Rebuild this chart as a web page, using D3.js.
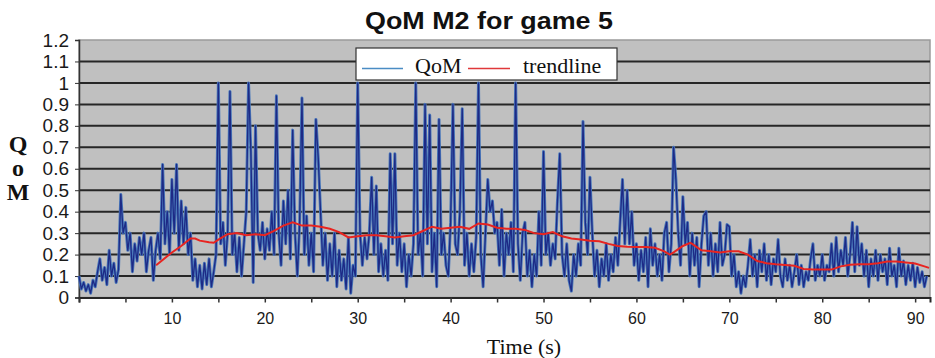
<!DOCTYPE html>
<html>
<head>
<meta charset="utf-8">
<script src="https://cdn.jsdelivr.net/npm/d3@7"></script>
<style>
  body { margin: 0; background: #fff; }
  svg { display: block; }
</style>
</head>
<body>
<div id="root"></div>
<script>

const svgWidth = 935;
const svgHeight = 358;

const sampleStep = 0.25;
const qomValues = [
  0.10, 0.04, 0.07, 0.03,   0.06, 0.02, 0.08, 0.05,   0.12, 0.18, 0.08, 0.14,
  0.06, 0.22, 0.10, 0.16,   0.07, 0.13, 0.48, 0.30,   0.35, 0.22, 0.30, 0.12,
  0.25, 0.17, 0.28, 0.20,   0.30, 0.12, 0.22, 0.28,   0.08, 0.22, 0.30, 0.18,
  0.62, 0.25, 0.40, 0.20,   // 9
  0.55, 0.30, 0.62, 0.22,   0.45, 0.25, 0.42, 0.20,   0.30, 0.08, 0.18, 0.05,
  0.15, 0.04, 0.16, 0.06,   0.18, 0.05, 0.12, 0.20,   1.00, 0.25, 0.35, 0.15,
  0.30, 0.96, 0.20, 0.30,   0.12, 0.28, 0.10, 0.25,   0.40, 1.00, 0.68, 0.07,
  0.80, 0.30, 0.22, 0.35,   // 19
  0.18, 0.32, 0.22, 0.40,   0.20, 0.94, 0.30, 0.15,   0.45, 0.25, 0.50, 0.18,
  0.78, 0.30, 0.10, 0.35,   0.93, 0.20, 0.38, 0.15,   0.30, 0.12, 0.83, 0.65,
  0.40, 0.15, 0.30, 0.08,   0.25, 0.10, 0.30, 0.05,   0.22, 0.08, 0.18, 0.04,
  0.28, 0.02, 0.15, 0.10,   // 29
  1.00, 0.30, 0.15, 0.28,   0.18, 0.30, 0.56, 0.20,   0.52, 0.12, 0.25, 0.10,
  0.22, 0.08, 0.67, 0.25,   0.67, 0.15, 0.30, 0.12,   0.25, 0.05, 0.20, 0.10,
  0.25, 1.00, 0.20, 0.30,   0.10, 0.90, 0.25, 0.85,   0.12, 0.30, 0.05, 0.83,
  0.20, 0.30, 0.15, 0.10,   // 39
  0.35, 0.90, 0.25, 0.20,   0.40, 0.88, 0.15, 0.30,   0.10, 0.25, 0.12, 0.28,
  1.00, 0.20, 0.05, 0.30,   0.55, 0.40, 0.45, 0.30,   0.35, 0.15, 0.41, 0.10,
  0.30, 0.20, 0.35, 0.12,   1.00, 0.25, 0.08, 0.30,   0.35, 0.10, 0.22, 0.05,
  0.20, 0.10, 0.40, 0.15,   // 49
  0.68, 0.20, 0.30, 0.15,   0.25, 0.18, 0.45, 0.67,   0.20, 0.10, 0.25, 0.08,
  0.03, 0.20, 0.10, 0.25,   0.15, 0.82, 0.35, 0.20,   0.56, 0.30, 0.10, 0.22,
  0.05, 0.18, 0.10, 0.25,   0.08, 0.20, 0.12, 0.28,   0.15, 0.35, 0.55, 0.25,
  0.50, 0.25, 0.40, 0.15,   // 59
  0.25, 0.08, 0.22, 0.12,   0.28, 0.05, 0.32, 0.15,   0.25, 0.10, 0.20, 0.08,
  0.30, 0.35, 0.12, 0.25,   0.70, 0.55, 0.30, 0.15,   0.47, 0.25, 0.35, 0.10,
  0.30, 0.15, 0.28, 0.05,   0.25, 0.38, 0.40, 0.15,   0.30, 0.10, 0.25, 0.12,
  0.35, 0.15, 0.20, 0.34,   // 69
  0.33, 0.10, 0.20, 0.05,   0.12, 0.02, 0.10, 0.05,   0.15, 0.27, 0.10, 0.20,
  0.05, 0.22, 0.12, 0.25,   0.08, 0.20, 0.06, 0.18,   0.12, 0.27, 0.10, 0.05,
  0.18, 0.08, 0.15, 0.05,   0.12, 0.20, 0.06, 0.15,   0.05, 0.12, 0.08, 0.18,
  0.25, 0.08, 0.15, 0.10,   // 79
  0.20, 0.08, 0.15, 0.12,   0.25, 0.10, 0.28, 0.12,   0.22, 0.15, 0.28, 0.10,
  0.20, 0.35, 0.12, 0.33,   0.15, 0.25, 0.10, 0.22,   0.05, 0.18, 0.10, 0.22,
  0.08, 0.20, 0.12, 0.18,   0.06, 0.23, 0.10, 0.15,   0.05, 0.23, 0.10, 0.17,
  0.06, 0.15, 0.08, 0.16,   // 89
  0.05, 0.14, 0.07, 0.12,   0.05, 0.10
];

// moving-average trendline
const trendTimes = [
  8.3, 9, 10, 11, 12, 12.5, 13, 14, 14.5, 15, 16, 17, 18, 19, 20, 21, 22, 23, 24, 25,
  26, 27, 28, 29, 30, 31, 32, 33, 34, 35, 36, 37, 38, 39, 40, 41, 42, 43, 44, 45,
  46, 47, 48, 49, 50, 51, 52, 53, 54, 55, 56, 57, 58, 59, 60, 61, 62, 63, 63.6, 64,
  65, 65.8, 66, 67, 68, 69, 70, 71, 72, 73, 74, 75, 76, 77, 78, 79, 80, 81, 82, 83,
  84, 85, 86, 87, 88, 89, 90, 91, 91.5
];
const trendValues = [
  0.150, 0.175, 0.210, 0.240, 0.275, 0.275, 0.265, 0.258, 0.255, 0.270, 0.295, 0.300, 0.290, 0.295, 0.290, 0.310, 0.335, 0.350, 0.335, 0.335,
  0.330, 0.320, 0.305, 0.280, 0.285, 0.290, 0.290, 0.285, 0.280, 0.285, 0.290, 0.310, 0.330, 0.320, 0.325, 0.330, 0.320, 0.345, 0.340, 0.325,
  0.320, 0.320, 0.315, 0.300, 0.295, 0.305, 0.285, 0.275, 0.270, 0.265, 0.262, 0.250, 0.240, 0.237, 0.235, 0.235, 0.232, 0.215, 0.200, 0.210,
  0.240, 0.255, 0.250, 0.220, 0.215, 0.210, 0.215, 0.215, 0.200, 0.170, 0.160, 0.155, 0.152, 0.148, 0.133, 0.130, 0.130, 0.130, 0.145, 0.153,
  0.155, 0.155, 0.160, 0.168, 0.168, 0.163, 0.158, 0.145, 0.138
];

const yTicks = [0, 0.1, 0.2, 0.3, 0.4, 0.5, 0.6, 0.7, 0.8, 0.9, 1, 1.1, 1.2];
const xTicks = [0, 5, 10, 15, 20, 25, 30, 35, 40, 45, 50, 55, 60, 65, 70, 75, 80, 85, 90];
const xLabelled = [10, 20, 30, 40, 50, 60, 70, 80, 90];

const chartTitle = "QoM M2 for game 5";
const seriesNames = ["QoM", "trendline"];
const yTitleLetters = ["Q", "o", "M"];


const plotLeft = 79, plotRight = 930, plotTop = 40, plotBottom = 297.5;

const xScale = d3.scaleLinear()
      .domain([0, 91.6])
      .range([plotLeft, plotRight]);

const yScale = d3.scaleLinear()
      .domain([0, 1.2])
      .range([plotBottom, plotTop]);

const mainSvg = d3.select("#root")
      .append("svg")
      .attr("width", svgWidth)
      .attr("height", svgHeight);

//Plot background
mainSvg.append("rect")
    .attr("x", plotLeft)
    .attr("y", plotTop)
    .attr("width", plotRight - plotLeft)
    .attr("height", plotBottom - plotTop)
    .attr("fill", "#c0c0c0")
    .attr("stroke", "#9a9a9a")
    .attr("stroke-width", 1.5);

//Gridlines
mainSvg.append("g")
    .selectAll("line")
    .data(yTicks.filter(d => d > 0 && d < 1.2))
    .join("line")
    .attr("x1", plotLeft)
    .attr("x2", plotRight)
    .attr("y1", d => yScale(d))
    .attr("y2", d => yScale(d))
    .attr("stroke", "#262626")
    .attr("stroke-width", 2);

//Y axis
const yAxis = mainSvg.append("g")
    .attr("transform", `translate(${plotLeft},0)`)
    .call(d3.axisLeft(yScale)
      .tickValues(yTicks)
      .tickSize(4)
      .tickPadding(6)
      .tickFormat(d => String(+d.toFixed(1))));
yAxis.select(".domain").attr("stroke", "#333").attr("stroke-width", 1.5);
yAxis.selectAll(".tick line").attr("stroke", "#333");
yAxis.selectAll("text")
    .attr("font-family", "Arial, 'Liberation Sans', sans-serif")
    .attr("font-size", "19px")
    .attr("fill", "#1a1a1a");

//X axis
const xAxis = mainSvg.append("g")
    .attr("transform", `translate(0,${plotBottom})`)
    .call(d3.axisBottom(xScale)
      .tickValues(xTicks)
      .tickSize(5)
      .tickPadding(10)
      .tickFormat(d => xLabelled.includes(d) ? d : ""));
xAxis.select(".domain").attr("stroke", "#262626").attr("stroke-width", 2);
xAxis.selectAll(".tick line").attr("stroke", "#333").attr("stroke-width", 1.5);
xAxis.selectAll("text")
    .attr("font-family", "Arial, 'Liberation Sans', sans-serif")
    .attr("font-size", "16px")
    .attr("fill", "#1a1a1a");

//QoM line, light edge with dark core
const qomLine = d3.line()
    .x((d, i) => xScale(i * sampleStep))
    .y(d => yScale(d));

mainSvg.append("path")
    .datum(qomValues)
    .attr("d", qomLine)
    .attr("fill", "none")
    .attr("stroke", "#4a78ba")
    .attr("stroke-width", 3)
    .attr("stroke-linejoin", "round");

mainSvg.append("path")
    .datum(qomValues)
    .attr("d", qomLine)
    .attr("fill", "none")
    .attr("stroke", "#1d2a86")
    .attr("stroke-width", 1.3)
    .attr("stroke-linejoin", "round");

//Trendline
const trendLine = d3.line()
    .x((d, i) => xScale(trendTimes[i]))
    .y(d => yScale(d));

mainSvg.append("path")
    .datum(trendValues)
    .attr("d", trendLine)
    .attr("fill", "none")
    .attr("stroke", "#e82420")
    .attr("stroke-width", 2);

//Title
mainSvg.append("text")
    .attr("x", 489)
    .attr("y", 28.5)
    .attr("text-anchor", "middle")
    .attr("font-family", "Arial, 'Liberation Sans', sans-serif")
    .attr("font-weight", "bold")
    .attr("font-size", "23px")
    .attr("textLength", 248)
    .attr("lengthAdjust", "spacingAndGlyphs")
    .attr("fill", "#111")
    .text(chartTitle);

//Legend
const legend = mainSvg.append("g");
legend.append("rect")
    .attr("x", 356)
    .attr("y", 48)
    .attr("width", 261)
    .attr("height", 32)
    .attr("fill", "#fff")
    .attr("stroke", "#333")
    .attr("stroke-width", 1.2);

const legendItems = [
  { name: seriesNames[0], color: "#4a8cc4", x1: 362, x2: 403, tx: 415 },
  { name: seriesNames[1], color: "#e0383a", x1: 468, x2: 510, tx: 523 }
];
legend.selectAll("line")
    .data(legendItems)
    .join("line")
    .attr("x1", d => d.x1)
    .attr("x2", d => d.x2)
    .attr("y1", 68.5)
    .attr("y2", 68.5)
    .attr("stroke", d => d.color)
    .attr("stroke-width", 1.5);
legend.selectAll("text")
    .data(legendItems)
    .join("text")
    .attr("x", d => d.tx)
    .attr("y", 72.5)
    .attr("font-family", "'Liberation Serif', 'Times New Roman', serif")
    .attr("font-size", "22px")
    .attr("fill", "#111")
    .text(d => d.name);

//Y axis title, letters stacked in one text
mainSvg.append("text")
    .attr("x", 18)
    .attr("y", 152)
    .attr("text-anchor", "middle")
    .attr("font-family", "'Liberation Serif', 'Times New Roman', serif")
    .attr("font-weight", "bold")
    .attr("font-size", "24px")
    .attr("fill", "#111")
    .selectAll("tspan")
    .data(yTitleLetters)
    .join("tspan")
    .attr("x", 18)
    .attr("dy", (d, i) => i === 0 ? 0 : 24)
    .text(d => d);

mainSvg.append("text")
    .attr("x", 524)
    .attr("y", 353.5)
    .attr("text-anchor", "middle")
    .attr("font-family", "'Liberation Serif', 'Times New Roman', serif")
    .attr("font-size", "22px")
    .attr("fill", "#111")
    .text("Time (s)");

</script>
</body>
</html>
